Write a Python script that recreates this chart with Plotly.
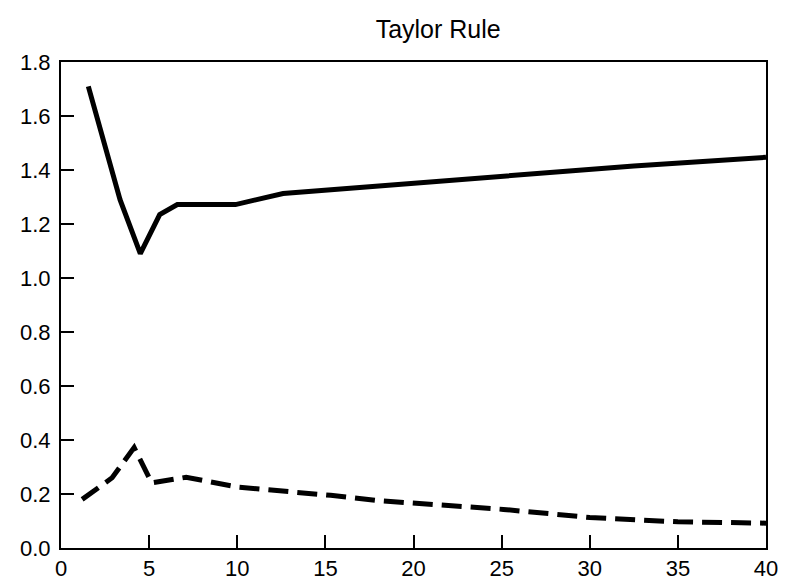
import plotly.graph_objects as go

# Solid line (upper series)
solid_x = [1.55, 3.35, 4.5, 5.6, 6.6, 9.9, 12.6, 20, 25, 32.5, 40]
solid_y = [1.71, 1.29, 1.09, 1.235, 1.272, 1.272, 1.313, 1.352, 1.38, 1.415, 1.447]

# Dashed line (lower series)
dash_x = [1.2, 2.9, 4.15, 5.15, 7.1, 10.1, 15.3, 18.1, 25.1, 30, 35, 40]
dash_y = [0.18, 0.26, 0.372, 0.241, 0.262, 0.225, 0.195, 0.175, 0.143, 0.113, 0.097, 0.092]

x_ticks = [0, 5, 10, 15, 20, 25, 30, 35, 40]
y_ticks = [0.0, 0.2, 0.4, 0.6, 0.8, 1.0, 1.2, 1.4, 1.6, 1.8]

fig = go.Figure()
fig.add_trace(go.Scatter(x=solid_x, y=solid_y, mode="lines",
                         line=dict(color="black", width=5), showlegend=False))
fig.add_trace(go.Scatter(x=dash_x, y=dash_y, mode="lines",
                         line=dict(color="black", width=5, dash="20px,9px"), showlegend=False))

fig.update_layout(
    width=792, height=585,
    margin=dict(l=53, r=34, t=54, b=45),
    paper_bgcolor="white", plot_bgcolor="white",
    font=dict(family="Liberation Sans, Arial, sans-serif", color="black", size=22),
    title=dict(text="Taylor Rule", x=0.535, xref="paper", xanchor="center",
               y=1 - 21 / 585, yref="container", yanchor="middle",
               font=dict(size=25, color="black")),
)
fig.update_xaxes(range=[0, 40], tickvals=x_ticks, ticktext=[str(v) for v in x_ticks],
                 ticks="inside", ticklen=13, tickwidth=1.5, tickcolor="black",
                 showline=True, linecolor="black", linewidth=2, mirror=True,
                 showgrid=False, zeroline=False, tickfont=dict(size=22))
fig.update_yaxes(range=[0, 1.8], tickvals=y_ticks, ticktext=[f"{v:.1f}" for v in y_ticks],
                 ticks="inside", ticklen=13, tickwidth=1.5, tickcolor="black",
                 showline=True, linecolor="black", linewidth=2, mirror=True,
                 showgrid=False, zeroline=False, tickfont=dict(size=22),
                 ticklabelstandoff=4)

fig.write_html("out.html")
